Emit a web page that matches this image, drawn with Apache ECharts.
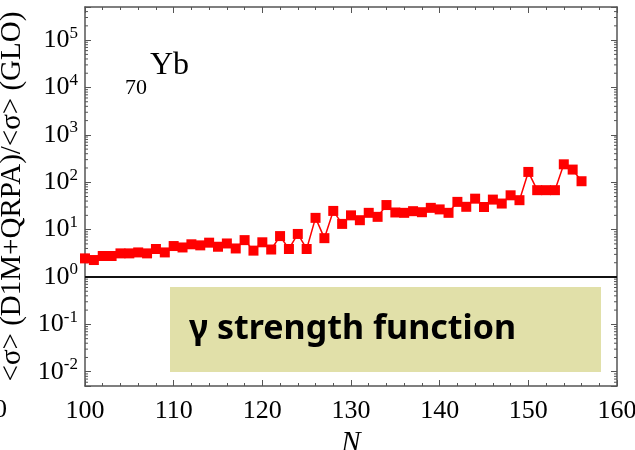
<!DOCTYPE html>
<html>
<head>
<meta charset="utf-8">
<script src="https://cdn.jsdelivr.net/npm/echarts@6/dist/echarts.min.js"></script>
<style>
  html, body { margin: 0; padding: 0; background: #fff; }
  #chart { width: 635px; height: 450px; }
</style>
</head>
<body>
<div id="chart"></div>
<script>
// Neutron numbers of the Yb isotopes
const neutronNumbers = [
  100, 101, 102, 103, 104, 105, 106, 107, 108, 109,
  110, 111, 112, 113, 114, 115, 116, 117, 118, 119,
  120, 121, 122, 123, 124, 125, 126, 127, 128, 129,
  130, 131, 132, 133, 134, 135, 136, 137, 138, 139,
  140, 141, 142, 143, 144, 145, 146, 147, 148, 149,
  150, 151, 152, 153, 154, 155, 156
];
// Ratio of average radiative widths, D1M+QRPA over GLO
const sigmaRatio = [
  2.47, 2.28, 2.77, 2.77, 3.15, 3.15, 3.3, 3.15, 3.9, 3.3,
  4.5, 4.2, 4.9, 4.65, 5.3, 4.35, 5.1, 4.0, 6.0, 3.6,
  5.4, 3.8, 7.3, 3.9, 8.1, 3.9, 17.7, 6.6, 24.8, 13.2,
  20, 15.8, 22.6, 18.6, 33, 23, 22.6, 24.5, 23.3, 28.8,
  26.7, 22.6, 38.5, 30.3, 45, 30, 43, 35.5, 53, 41.8,
  165, 68, 68, 68, 239, 185, 105
];
// Axis tick values
const xTicks = [100, 110, 120, 130, 140, 150, 160];
const yDecades = [-2, -1, 0, 1, 2, 3, 4, 5];
const yRange = [0.005, 500000];
const xRange = [100, 160];

// Minor log ticks (2..9 in each decade) for both vertical edges
const minorY = [];
for (let e = -3; e <= 5; e++) {
  for (let m = 2; m <= 9; m++) {
    const v = m * Math.pow(10, e);
    if (v > yRange[0] && v < yRange[1]) minorY.push(v);
  }
}

const serif = 'Liberation Serif';
const frame = '#555';

const chart = echarts.init(document.getElementById('chart'), null, { renderer: 'canvas' });

function minorTickItem(params, api) {
  const v = api.value(0);
  const l = api.coord([xRange[0], v]);
  const r = api.coord([xRange[1], v]);
  const len = 3;
  return {
    type: 'group',
    children: [
      { type: 'line', shape: { x1: l[0], y1: l[1], x2: l[0] + len, y2: l[1] },
        style: { stroke: frame, lineWidth: 1 } },
      { type: 'line', shape: { x1: r[0], y1: r[1], x2: r[0] - len, y2: r[1] },
        style: { stroke: frame, lineWidth: 1 } }
    ]
  };
}

chart.setOption({
  animation: false,
  backgroundColor: '#fff',
  grid: { left: 85, right: 18, top: 7, bottom: 64, show: false, containLabel: false, outerBoundsMode: 'none' },
  xAxis: [{
    type: 'value',
    min: xRange[0], max: xRange[1], interval: 10,
    name: 'N',
    nameLocation: 'middle',
    nameGap: 42,
    nameTextStyle: { fontFamily: serif, fontStyle: 'italic', fontSize: 29, color: '#000' },
    axisLine: { show: true, lineStyle: { color: frame, width: 1.5 } },
    axisTick: { show: true, inside: true, length: 6, lineStyle: { color: frame } },
    minorTick: { show: true, splitNumber: 5, length: 3, lineStyle: { color: frame } },
    axisLabel: {
      fontFamily: serif, fontSize: 26, color: '#000', margin: 12,
      formatter: v => (xTicks.indexOf(v) >= 0 ? String(v) : '')
    },
    splitLine: { show: false }
  }, {
    type: 'value', position: 'top',
    min: xRange[0], max: xRange[1], interval: 10,
    axisLine: { show: true, lineStyle: { color: frame, width: 1.5 } },
    axisTick: { show: true, inside: true, length: 6, lineStyle: { color: frame } },
    minorTick: { show: true, splitNumber: 5, length: 3, lineStyle: { color: frame } },
    axisLabel: { show: false },
    splitLine: { show: false }
  }],
  yAxis: [{
    type: 'log', logBase: 10,
    min: yRange[0], max: yRange[1],
    name: '<σ> (D1M+QRPA)/<σ> (GLO)',
    nameLocation: 'middle',
    nameRotate: 90,
    nameGap: 52,
    nameTextStyle: { fontFamily: serif, fontSize: 29, color: '#000' },
    axisLine: { show: true, lineStyle: { color: frame, width: 1.5 } },
    axisTick: { show: true, inside: true, length: 6, lineStyle: { color: frame } },
    axisLabel: {
      margin: 7,
      formatter: v => {
        const e = Math.log10(v);
        const r = Math.round(e);
        if (Math.abs(e - r) > 1e-6 || yDecades.indexOf(r) < 0) return '';
        return '{b|10}{s|' + r + '}';
      },
      rich: {
        b: { fontFamily: serif, fontSize: 26, color: '#000' },
        s: { fontFamily: serif, fontSize: 17, color: '#000', padding: [0, 0, 14, 0] }
      }
    },
    splitLine: { show: false }
  }, {
    type: 'log', logBase: 10, position: 'right',
    min: yRange[0], max: yRange[1],
    axisLine: { show: true, lineStyle: { color: frame, width: 1.5 } },
    axisTick: { show: true, inside: true, length: 6, lineStyle: { color: frame } },
    axisLabel: { show: false },
    splitLine: { show: false }
  }],
  series: [{
    type: 'custom',
    xAxisIndex: 0, yAxisIndex: 0,
    renderItem: minorTickItem,
    data: minorY.map(v => [v]),
    encode: { y: 0 },
    silent: true,
    z: 1
  }, {
    type: 'line',
    xAxisIndex: 0, yAxisIndex: 0,
    data: neutronNumbers.map((n, i) => [n, sigmaRatio[i]]),
    symbol: 'rect',
    symbolSize: 10,
    lineStyle: { color: '#ff0000', width: 1.5 },
    itemStyle: { color: '#ff0000' },
    z: 3,
    markLine: {
      silent: true,
      symbol: ['none', 'none'],
      label: { show: false },
      lineStyle: { color: '#111', width: 2, type: 'solid' },
      data: [{ yAxis: 1 }]
    }
  }],
  graphic: [
    // nucleus label
    { type: 'text', left: 150, top: 50,
      style: { text: 'Yb', font: '32px "Liberation Serif"', fill: '#000' } },
    { type: 'text', left: 125, top: 77,
      style: { text: '70', font: '22px "Liberation Serif"', fill: '#000' } },
    // caption box
    { type: 'rect', shape: { x: 170, y: 287, width: 431, height: 85 },
      style: { fill: '#e1e0a9' }, z: 10 },
    { type: 'text', left: 189, top: 312,
      style: { text: 'γ strength function', font: 'bold 34px "Noto Sans", sans-serif', fill: '#000' }, z: 11 },
    // neighbouring panel's last tick label, clipped by the page edge
    { type: 'text', right: 628, top: 397,
      style: { text: '160', font: '26px "Liberation Serif"', fill: '#000' } }
  ]
});
</script>
</body>
</html>
